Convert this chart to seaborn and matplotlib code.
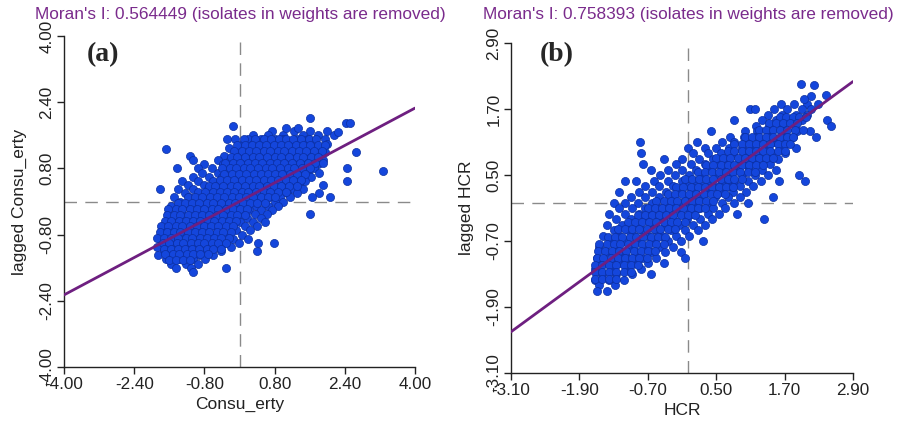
import numpy as np
import pandas as pd
import matplotlib
matplotlib.use("Agg")
import matplotlib.pyplot as plt
import seaborn as sns

sns.set_style("white")
plt.rcParams['font.family'] = ['Liberation Sans', 'DejaVu Sans']

# ---------------- Panel (a): Consu_erty ----------------
a_title = "Moran's I: 0.564449 (isolates in weights are removed)"
a_moran = 0.564449
a_xlabel = "Consu_erty"
a_ylabel = "lagged Consu_erty"
a_ticks = [-4.0, -2.4, -0.8, 0.8, 2.4, 4.0]
a_tick_labels = ["-4.00", "-2.40", "-0.80", "0.80", "2.40", "4.00"]

# scattered points, read row by row
a_row_y = [1.70, 1.60, 1.50, 1.40, 1.30, 1.20, 1.10, 1.00, 0.90, 0.80, 0.70, 0.60, 0.50,
           0.40, 0.30, 0.20, 0.10, 0.00, -0.10, -0.20, -0.30, -0.40, -0.50, -0.60, -0.70,
           -0.80, -0.90, -1.00, -1.10, -1.20, -1.30, -1.40, -1.50, -1.60]
a_row_x = [
    [0.75, 1.25, 1.60, 2.00],
    [0.30, 0.65, 1.00, 1.45, 1.80, 2.15],
    [-0.10, 0.20, 0.50, 0.80, 1.00, 1.30, 1.55, 1.95],
    [0.05, 0.30, 0.55, 0.75, 1.05, 1.25, 1.50, 1.72, 2.00],
    [-0.25, 0.00, 0.18, 0.42, 0.68, 0.90, 1.12, 1.38, 1.60, 1.85],
    [-0.05, 0.25, 0.50, 0.72, 0.98, 1.20, 1.45, 1.70, 1.95, 2.65],
    [-1.12, -0.35, -0.12, 0.12, 0.35, 0.60, 0.85, 1.05, 1.30, 1.55, 1.78],
    [-1.05, -0.50, -0.22, 0.02, 0.25, 0.48, 0.75, 0.95, 1.18, 1.42, 1.65, 1.90],
    [-0.80, -0.38, -0.10, 0.15, 0.38, 0.62, 0.85, 1.10, 1.32, 1.52, 1.78],
    [-1.43, -0.95, -0.62, -0.30, 0.00, 0.22, 0.50, 0.72, 0.95, 1.20, 1.45, 1.70, 2.45],
    [-0.85, -0.50, -0.20, 0.08, 0.35, 0.58, 0.82, 1.05, 1.30, 1.55, 1.82],
    [-1.05, -0.70, -0.40, -0.10, 0.18, 0.45, 0.68, 0.92, 1.15, 1.40, 1.62],
    [-1.30, -0.95, -0.60, -0.30, -0.02, 0.25, 0.50, 0.75, 1.00, 1.25, 1.50, 2.44],
    [-1.18, -0.82, -0.48, -0.15, 0.12, 0.38, 0.62, 0.88, 1.10, 1.35, 1.90],
    [-1.81, -1.40, -1.05, -0.72, -0.38, -0.05, 0.22, 0.48, 0.72, 0.98, 1.22, 1.45],
    [-1.25, -0.92, -0.60, -0.28, 0.02, 0.30, 0.58, 0.82, 1.08, 1.30, 1.82],
    [-1.50, -1.15, -0.80, -0.48, -0.15, 0.15, 0.42, 0.68, 0.92, 1.15, 1.65, 2.06],
    [-1.35, -1.00, -0.65, -0.32, 0.00, 0.28, 0.55, 0.80, 1.00],
    [-1.55, -1.20, -0.88, -0.55, -0.20, 0.10, 0.38, 0.65, 0.88],
    [-1.45, -1.10, -0.75, -0.40, -0.08, 0.22, 0.50, 0.75],
    [-1.62, -1.30, -0.95, -0.62, -0.28, 0.05, 0.35, 0.62, 1.61],
    [-1.50, -1.15, -0.82, -0.48, -0.15, 0.18, 0.48],
    [-1.68, -1.35, -1.02, -0.70, -0.35, 0.00, 0.30, 0.58],
    [-1.55, -1.20, -0.88, -0.55, -0.20, 0.12, 0.40],
    [-1.75, -1.42, -1.08, -0.75, -0.42, -0.08, 0.25],
    [-1.62, -1.28, -0.95, -0.60, -0.28, 0.05],
    [-1.82, -1.50, -1.15, -0.82, -0.48, -0.15, 0.20],
    [-1.70, -1.35, -1.02, -0.68, -0.35, -0.02, 0.42, 0.79],
    [-1.88, -1.55, -1.22, -0.88, -0.55, -0.20],
    [-1.72, -1.40, -1.08, -0.75, -0.42, 0.39],
    [-1.85, -1.55, -1.25, -0.92, -0.60],
    [-1.68, -1.38, -1.05, -0.78],
    [-1.55, -1.22, -0.95],
    [-1.45, -1.10, -0.31],
]
# dense band of overlapping points along the diagonal
a_core_y = [1.50, 1.36, 1.22, 1.08, 0.94, 0.80, 0.66, 0.52, 0.38, 0.24, 0.10, -0.04,
            -0.18, -0.32, -0.46, -0.60, -0.74, -0.88, -1.00, -1.14, -1.28, -1.42]
a_core_x = [
    [0.10, 0.35, 0.55, 0.72, 0.90, 1.05, 1.22, 1.40, 1.58, 1.75],
    [-0.05, 0.12, 0.28, 0.45, 0.60, 0.78, 0.95, 1.10, 1.28, 1.45, 1.60, 1.78, 1.95],
    [-0.12, 0.05, 0.22, 0.38, 0.55, 0.70, 0.88, 1.02, 1.20, 1.35, 1.52, 1.70, 1.88],
    [-0.20, -0.05, 0.12, 0.30, 0.45, 0.62, 0.80, 0.95, 1.12, 1.30, 1.45, 1.62, 1.80],
    [-0.32, -0.15, 0.02, 0.20, 0.35, 0.52, 0.70, 0.85, 1.02, 1.20, 1.38, 1.55, 1.72, 1.90],
    [-0.40, -0.22, -0.08, 0.10, 0.25, 0.42, 0.60, 0.75, 0.92, 1.10, 1.25, 1.42, 1.60],
    [-0.35, -0.18, -0.02, 0.15, 0.32, 0.48, 0.65, 0.80, 0.98, 1.15, 1.32, 1.50],
    [-0.45, -0.28, -0.12, 0.05, 0.22, 0.38, 0.55, 0.72, 0.88, 1.05, 1.22, 1.40],
    [-0.70, -0.55, -0.38, -0.20, -0.05, 0.12, 0.30, 0.45, 0.62, 0.78, 0.95, 1.12, 1.30],
    [-0.95, -0.78, -0.60, -0.45, -0.28, -0.12, 0.05, 0.20, 0.38, 0.55, 0.70, 0.88, 1.05],
    [-1.18, -1.02, -0.85, -0.68, -0.52, -0.35, -0.18, -0.02, 0.15, 0.30, 0.48, 0.65, 0.82],
    [-1.40, -1.25, -1.08, -0.92, -0.75, -0.60, -0.42, -0.25, -0.10, 0.08, 0.25, 0.40, 0.58],
    [-1.62, -1.45, -1.30, -1.12, -0.98, -0.80, -0.62, -0.48, -0.30, -0.15, 0.02, 0.18],
    [-1.65, -1.50, -1.35, -1.18, -1.02, -0.85, -0.70, -0.52, -0.38, -0.20, -0.05, 0.12],
    [-1.70, -1.55, -1.38, -1.22, -1.05, -0.90, -0.72, -0.58, -0.40, -0.25, -0.08],
    [-1.78, -1.62, -1.45, -1.30, -1.12, -0.98, -0.80, -0.65, -0.48, -0.30, -0.15],
    [-1.82, -1.65, -1.50, -1.35, -1.18, -1.02, -0.85, -0.70, -0.52, -0.38, -0.20],
    [-1.88, -1.72, -1.55, -1.40, -1.22, -1.08, -0.90, -0.75, -0.58, -0.42, -0.25],
    [-1.75, -1.60, -1.42, -1.28, -1.10, -0.95, -0.80, -0.62, -0.48, -0.30],
    [-1.72, -1.55, -1.40, -1.25, -1.08, -0.92, -0.75, -0.60, -0.42],
    [-1.70, -1.52, -1.38, -1.20, -1.05, -0.90, -0.72],
    [-1.60, -1.45, -1.28, -1.12],
]
a_out_x = [1.61, 2.42, 2.52, -0.15, 1.06, 1.33, 2.24, -1.68, 3.27, -1.06, -0.28]
a_out_y = [2.02, 1.90, 1.90, 1.82, 1.77, 1.77, 1.69, 1.27, 0.74, -1.70, 1.51]

# ---------------- Panel (b): HCR ----------------
b_title = "Moran's I: 0.758393 (isolates in weights are removed)"
b_moran = 0.758393
b_xlabel = "HCR"
b_ylabel = "lagged HCR"
b_ticks = [-3.1, -1.9, -0.7, 0.5, 1.7, 2.9]
b_tick_labels = ["-3.10", "-1.90", "-0.70", "0.50", "1.70", "2.90"]

b_row_y = [1.80, 1.70, 1.60, 1.50, 1.40, 1.30, 1.20, 1.10, 1.00, 0.90, 0.80, 0.70, 0.60,
           0.50, 0.40, 0.30, 0.20, 0.10, 0.00, -0.10, -0.20, -0.30, -0.40, -0.50, -0.60,
           -0.70, -0.80, -0.90, -1.00, -1.10, -1.20, -1.30, -1.40, -1.50, -1.60]
b_row_x = [
    [1.63, 1.86, 2.10, 2.28],
    [1.10, 1.18, 1.51, 1.75, 2.00, 2.16],
    [1.40, 1.65, 1.90, 2.10],
    [0.81, 1.30, 1.55, 1.78, 2.00, 2.45],
    [1.20, 1.42, 1.65, 1.88, 2.52],
    [0.40, 1.00, 1.22, 1.45, 1.70, 1.92, 2.15],
    [0.75, 0.98, 1.20, 1.42, 1.65, 1.85, 2.25],
    [-0.83, 0.17, 0.60, 0.82, 1.05, 1.30, 1.52, 1.75],
    [0.00, 0.30, 0.50, 0.72, 0.95, 1.18, 1.40, 1.62, 1.90],
    [-0.82, 0.10, 0.35, 0.58, 0.80, 1.02, 1.25, 1.48, 1.70],
    [-0.41, -0.10, 0.20, 0.45, 0.68, 0.90, 1.12, 1.35, 1.58],
    [-0.78, -0.20, 0.05, 0.30, 0.52, 0.75, 0.98, 1.20, 1.45],
    [-0.65, -0.35, -0.10, 0.15, 0.40, 0.62, 0.85, 1.08, 1.30, 1.55],
    [-0.48, -0.22, 0.02, 0.25, 0.50, 0.72, 0.95, 1.18, 1.40, 1.95],
    [-1.10, -0.90, -0.60, -0.35, -0.10, 0.15, 0.38, 0.60, 0.82, 1.05, 1.28, 1.60, 2.05],
    [-0.75, -0.50, -0.25, 0.00, 0.25, 0.48, 0.70, 0.92, 1.15],
    [-1.20, -0.85, -0.62, -0.38, -0.12, 0.12, 0.35, 0.58, 0.80, 1.02],
    [-1.00, -0.75, -0.50, -0.25, 0.00, 0.25, 0.48, 0.70, 0.92, 1.50],
    [-1.30, -1.10, -0.88, -0.62, -0.38, -0.12, 0.12, 0.35, 0.60, 0.82, 1.05],
    [-1.20, -0.98, -0.75, -0.50, -0.25, 0.00, 0.22, 0.45, 0.65],
    [-1.38, -1.10, -0.85, -0.62, -0.38, -0.12, 0.10, 0.35, 0.55, 0.87],
    [-1.25, -1.00, -0.75, -0.50, -0.25, -0.02, 0.22, 0.42, 1.34],
    [-1.42, -1.15, -0.90, -0.65, -0.40, -0.15, 0.10, 0.30],
    [-1.30, -1.05, -0.80, -0.55, -0.30, -0.05, 0.18],
    [-1.48, -1.20, -0.95, -0.70, -0.45, -0.20, 0.02],
    [-1.35, -1.10, -0.85, -0.60, -0.35, -0.12, 0.27],
    [-1.55, -1.28, -1.02, -0.75, -0.50, -0.25],
    [-1.42, -1.15, -0.90, -0.65, -0.40, -0.12],
    [-1.60, -1.32, -1.05, -0.80, -0.55, -0.04],
    [-1.48, -1.20, -0.95, -0.70, -0.42],
    [-1.62, -1.35, -1.08, -0.82],
    [-1.50, -1.25, -0.98, -0.65],
    [-1.63, -1.38, -1.12],
    [-1.55, -1.28],
    [-1.60, -1.42],
]
b_core_y = [1.56, 1.44, 1.32, 1.20, 1.07, 0.94, 0.81, 0.68, 0.55, 0.42, 0.29, 0.16, 0.03,
            -0.10, -0.23, -0.36, -0.49, -0.62, -0.75, -0.88, -1.00, -1.13, -1.26, -1.39]
b_core_x = [
    [1.62, 1.72, 1.85, 1.95, 2.08],
    [1.42, 1.55, 1.68, 1.80, 1.92],
    [1.25, 1.38, 1.50, 1.62, 1.75, 1.88, 2.02],
    [1.00, 1.12, 1.25, 1.38, 1.50, 1.62, 1.75, 1.85],
    [0.82, 0.95, 1.08, 1.20, 1.32, 1.45, 1.58, 1.70, 1.80],
    [0.70, 0.82, 0.95, 1.08, 1.20, 1.32, 1.45, 1.58, 1.70],
    [0.50, 0.62, 0.75, 0.88, 1.00, 1.12, 1.25, 1.38, 1.50],
    [0.32, 0.45, 0.58, 0.70, 0.82, 0.95, 1.08, 1.20, 1.32],
    [0.18, 0.30, 0.42, 0.55, 0.68, 0.80, 0.92, 1.05, 1.18],
    [-0.05, 0.08, 0.20, 0.32, 0.45, 0.58, 0.70, 0.82, 0.95],
    [-0.20, -0.08, 0.05, 0.18, 0.30, 0.42, 0.55, 0.68, 0.80],
    [-0.35, -0.22, -0.10, 0.02, 0.15, 0.28, 0.40, 0.52, 0.65],
    [-0.55, -0.42, -0.30, -0.18, -0.05, 0.08, 0.20, 0.32, 0.45],
    [-0.70, -0.58, -0.45, -0.32, -0.20, -0.08, 0.05, 0.18, 0.30],
    [-0.88, -0.75, -0.62, -0.50, -0.38, -0.25, -0.12, 0.00, 0.12],
    [-1.05, -0.92, -0.80, -0.68, -0.55, -0.42, -0.30, -0.18, -0.05],
    [-1.22, -1.10, -0.98, -0.85, -0.72, -0.60, -0.48, -0.35, -0.22],
    [-1.40, -1.28, -1.15, -1.02, -0.90, -0.78, -0.65, -0.52, -0.40],
    [-1.55, -1.42, -1.30, -1.18, -1.05, -0.92, -0.80, -0.68, -0.55, -0.42],
    [-1.58, -1.45, -1.32, -1.20, -1.08, -0.95, -0.82, -0.70, -0.58],
    [-1.60, -1.48, -1.35, -1.22, -1.10, -0.98, -0.85, -0.72],
    [-1.62, -1.50, -1.38, -1.25, -1.12, -1.00, -0.88],
    [-1.63, -1.50, -1.38, -1.25, -1.12, -1.00],
    [-1.62, -1.50, -1.38, -1.25],
]
b_out_x = [1.98, 2.21, 2.42, 2.16, 2.04]
b_out_y = [2.16, 2.14, 1.96, 1.93, 1.88]


def build_frame(row_sets, out_x, out_y):
    xs, ys = [], []
    for row_y, row_x in row_sets:
        for y, row in zip(row_y, row_x):
            for x in row:
                xs.append(x)
                ys.append(y)
    xs += out_x
    ys += out_y
    return pd.DataFrame({"x": xs, "y": ys})


df_a = build_frame([(a_row_y, a_row_x), (a_core_y, a_core_x)], a_out_x, a_out_y)
df_b = build_frame([(b_row_y, b_row_x), (b_core_y, b_core_x)], b_out_x, b_out_y)

W, H = 897, 426
fig = plt.figure(figsize=(W / 100, H / 100), dpi=100)
ax_a = fig.add_axes([64 / W, 59 / H, 351 / W, 331 / H])
ax_b = fig.add_axes([511 / W, 53 / H, 342 / W, 330 / H])

panels = [
    (ax_a, df_a, a_ticks, a_tick_labels, a_xlabel, a_ylabel, a_moran, a_title, "(a)", 103, 240),
    (ax_b, df_b, b_ticks, b_tick_labels, b_xlabel, b_ylabel, b_moran, b_title, "(b)", 557, 688),
]

for ax, df, ticks, tlabels, xl, yl, moran, title, tag, tag_x, title_x in panels:
    ax.axhline(0, color="#8a8a8a", lw=1.0, ls=(0, (9, 6)), zorder=1)
    ax.axvline(0, color="#8a8a8a", lw=1.0, ls=(0, (9, 6)), zorder=1)
    sns.scatterplot(data=df, x="x", y="y", ax=ax, s=34, color="#1446DC",
                    edgecolor="#0B2FA0", linewidth=0.5, zorder=2, legend=False)
    ax.axline((0, 0), slope=moran, color="#6E1F80", lw=2.0, zorder=3)
    ax.set_xlim(ticks[0], ticks[-1])
    ax.set_ylim(ticks[0], ticks[-1])
    ax.set_xticks(ticks)
    ax.set_yticks(ticks)
    ax.set_xticklabels(tlabels, fontsize=12.3, color="#222222")
    ax.set_yticklabels(tlabels, fontsize=12.3, color="#222222", rotation=90, va="center")
    for s in ["top", "right"]:
        ax.spines[s].set_visible(False)
    for s in ["left", "bottom"]:
        ax.spines[s].set_color("#222222")
        ax.spines[s].set_linewidth(1.0)
    ax.tick_params(axis="both", direction="out", length=5, width=1.0, color="#222222", pad=2,
                   left=True, bottom=True)
    ax.set_xlabel(xl, fontsize=12.5, color="#222222", labelpad=4)
    ax.set_ylabel(yl, fontsize=12.5, color="#222222", labelpad=9)
    ax.set_facecolor("white")
    fig.text(title_x / W, 1 - 14 / H, title, ha="center", va="center",
             color="#7A2B8C", fontsize=12.4)
    fig.text(tag_x / W, 1 - 55 / H, tag, ha="center", va="center",
             family=["Liberation Serif", "DejaVu Serif"], weight="bold", fontsize=20)

fig.savefig("out.png", dpi=100, facecolor="white")
